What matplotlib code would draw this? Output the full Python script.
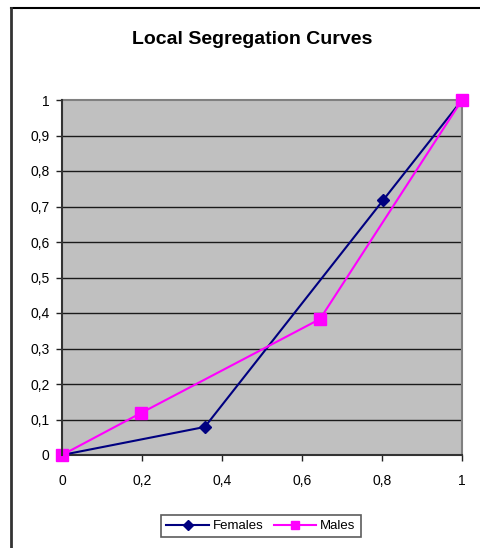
import matplotlib
matplotlib.use("Agg")
import matplotlib.pyplot as plt
from matplotlib.lines import Line2D

plt.rcParams['font.family'] = ['Liberation Sans', 'DejaVu Sans']

females_x = [0, 0.357, 0.803, 1]
females_y = [0, 0.079, 0.718, 1]
males_x = [0, 0.197, 0.645, 1]
males_y = [0, 0.118, 0.383, 1]
xticks = [0, 0.2, 0.4, 0.6, 0.8, 1]
xtick_labels = ['0', '0,2', '0,4', '0,6', '0,8', '1']
yticks = [0, 0.1, 0.2, 0.3, 0.4, 0.5, 0.6, 0.7, 0.8, 0.9, 1]
ytick_labels = ['0', '0,1', '0,2', '0,3', '0,4', '0,5', '0,6', '0,7', '0,8', '0,9', '1']

W, H = 480, 548
fig = plt.figure(figsize=(W/100, H/100), dpi=100)
ax = fig.add_axes([62/W, 1-455/H, 400/W, 355/H])
ax.set_facecolor('#C0C0C0')
ax.set_xlim(0, 1)
ax.set_ylim(0, 1)
for y in yticks[1:-1]:
    ax.axhline(y, color='#1a1a1a', lw=1.0, zorder=1)

ax.plot(females_x, females_y, color='#000080', lw=1.5, marker='D', ms=6,
        mfc='#000080', mec='#000080', zorder=3, clip_on=False, label='Females')
ax.plot(males_x, males_y, color='#FF00FF', lw=1.5, marker='s', ms=8,
        mfc='#FF00FF', mec='#FF00FF', zorder=4, clip_on=False, label='Males')

ax.set_xticks(xticks)
ax.set_xticklabels(xtick_labels)
ax.set_yticks(yticks)
ax.set_yticklabels(ytick_labels)
ax.tick_params(direction='out', length=4, width=1, colors='#222222',
               labelsize=10, labelcolor='black')
ax.tick_params(axis='x', pad=10)
ax.tick_params(axis='y', pad=5)
ax.spines['left'].set_color('#333333')
ax.spines['bottom'].set_color('#333333')
ax.spines['top'].set_color('#808080')
ax.spines['right'].set_color('#808080')
for s in ax.spines.values():
    s.set_linewidth(1.5)
ax.spines['left'].set_zorder(6)

fig.text(252/W, 1-40/H, 'Local Segregation Curves', ha='center', va='center',
         fontsize=14, fontweight='bold')

handles = [Line2D([0], [0], color='#000080', lw=1.5, marker='D', ms=5),
           Line2D([0], [0], color='#FF00FF', lw=1.5, marker='s', ms=6)]
leg = fig.legend(handles, ['Females', 'Males'], loc='center',
                 bbox_to_anchor=(261/W, 1-526/H), ncol=2, frameon=True,
                 fancybox=False, edgecolor='#333333', fontsize=9.5,
                 handlelength=3.2, columnspacing=0.8, handletextpad=0.3,
                 borderpad=0.4, borderaxespad=0)
leg.get_frame().set_linewidth(1.2)

# figure border (top and left visible)
fig.add_artist(Line2D([11/W, 1], [1-8/H, 1-8/H], color='black', lw=1.5,
                      transform=fig.transFigure))
fig.add_artist(Line2D([11/W, 11/W], [0, 1-8/H], color='#333333', lw=2,
                      transform=fig.transFigure))

fig.savefig('out.png', dpi=100)
